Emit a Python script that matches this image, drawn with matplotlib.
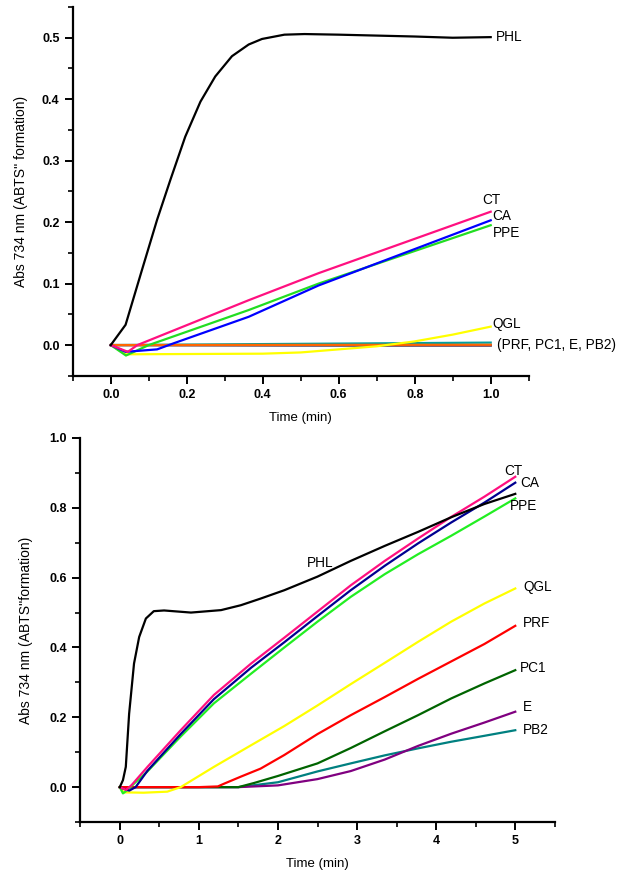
import matplotlib
matplotlib.use("Agg")
import matplotlib.pyplot as plt
from matplotlib.ticker import MultipleLocator

plt.rcParams['font.family'] = ['Liberation Sans', 'DejaVu Sans']

# ---------------- Top panel data (0-1 min) ----------------
top_phl_x = [0, 0.039, 0.082, 0.122, 0.157, 0.196, 0.236, 0.275, 0.319, 0.363, 0.398, 0.457, 0.51, 0.6, 0.8, 0.9, 1.0]
top_phl_y = [0, 0.033, 0.122, 0.204, 0.269, 0.339, 0.396, 0.437, 0.47, 0.489, 0.498, 0.505, 0.506, 0.505, 0.502, 0.500, 0.501]

top_ct_x = [0, 0.045, 0.07, 0.363, 0.547, 1.0]
top_ct_y = [0, -0.011, 0.0, 0.073, 0.117, 0.217]

top_ca_x = [0, 0.039, 0.122, 0.166, 0.363, 0.547, 1.0]
top_ca_y = [0, -0.011, -0.007, 0.003, 0.046, 0.097, 0.203]

top_ppe_x = [0, 0.04, 0.1, 0.363, 0.547, 1.0]
top_ppe_y = [0, -0.017, 0.0, 0.057, 0.1, 0.195]

top_qgl_x = [0, 0.04, 0.4, 0.5, 0.6, 0.7, 0.8, 0.9, 1.0]
top_qgl_y = [0, -0.015, -0.014, -0.012, -0.007, -0.002, 0.006, 0.017, 0.03]

top_flat_x = [0, 0.5, 1.0]
top_pc1_y = [0, -0.0005, -0.0006]
top_e_y = [0, -0.0003, -0.0004]
top_pb2_y = [0, 0.002, 0.004]
top_prf_y = [0, 0.0003, 0.0005]

# ---------------- Bottom panel data (0-5 min) ----------------
bot_phl_x = [0, 0.04, 0.076, 0.118, 0.18, 0.245, 0.33, 0.43, 0.56, 0.9, 1.28, 1.53, 1.78, 2.08, 2.5, 2.92, 3.35, 3.77, 4.19, 4.61, 5.0]
bot_phl_y = [0, 0.02, 0.058, 0.21, 0.354, 0.43, 0.483, 0.504, 0.506, 0.5, 0.507, 0.521, 0.54, 0.564, 0.603, 0.648, 0.691, 0.731, 0.773, 0.811, 0.84]

bot_x = [0.35, 0.77, 1.19, 1.66, 2.08, 2.5, 2.92, 3.35, 3.77, 4.19, 4.61, 5.0]
bot_ct_y = [0.058, 0.163, 0.264, 0.354, 0.428, 0.503, 0.578, 0.648, 0.712, 0.774, 0.832, 0.889]
bot_ca_y = [0.047, 0.152, 0.252, 0.342, 0.415, 0.49, 0.564, 0.634, 0.698, 0.758, 0.815, 0.872]
bot_ppe_y = [0.045, 0.145, 0.24, 0.325, 0.4, 0.474, 0.545, 0.61, 0.667, 0.72, 0.775, 0.827]
bot_ct_start_x = [0, 0.08, 0.15]
bot_ct_start_y = [0, -0.008, 0.006]
bot_ca_start_x = [0, 0.05, 0.12, 0.2]
bot_ca_start_y = [0, -0.005, -0.01, 0.0]
bot_ppe_start_x = [0, 0.04, 0.1, 0.18]
bot_ppe_start_y = [0, -0.018, -0.008, 0.01]

bot_qgl_x = [0, 0.05, 0.3, 0.6, 0.77, 1.19, 1.66, 2.08, 2.5, 2.92, 3.35, 3.77, 4.19, 4.61, 5.0]
bot_qgl_y = [0, -0.015, -0.016, -0.013, 0.0, 0.058, 0.12, 0.175, 0.234, 0.295, 0.356, 0.416, 0.474, 0.526, 0.569]

bot_prf_x = [0, 1.0, 1.24, 1.32, 1.53, 1.78, 2.08, 2.5, 2.92, 3.35, 3.77, 4.19, 4.61, 5.0]
bot_prf_y = [0, 0.0, 0.002, 0.01, 0.03, 0.053, 0.092, 0.152, 0.206, 0.258, 0.31, 0.36, 0.41, 0.462]

bot_pc1_x = [0, 1.5, 1.7, 2.0, 2.5, 2.92, 3.35, 3.77, 4.19, 4.61, 5.0]
bot_pc1_y = [0, 0.0, 0.012, 0.032, 0.068, 0.112, 0.16, 0.206, 0.254, 0.297, 0.335]

bot_e_x = [0, 1.5, 2.0, 2.5, 2.92, 3.35, 3.77, 4.19, 4.61, 5.0]
bot_e_y = [0, 0.0, 0.005, 0.023, 0.046, 0.079, 0.118, 0.153, 0.185, 0.216]

bot_pb2_x = [0, 1.5, 2.0, 2.5, 2.92, 3.35, 3.77, 4.19, 4.61, 5.0]
bot_pb2_y = [0, 0.0, 0.014, 0.045, 0.068, 0.091, 0.111, 0.13, 0.147, 0.163]

LW = 1.6
FS = 9.8
fig = plt.figure(figsize=(6.22, 8.76), dpi=100)

def style(ax):
    for s in ['top', 'right']:
        ax.spines[s].set_visible(False)
    for s in ['left', 'bottom']:
        ax.spines[s].set_linewidth(1.6)
    ax.tick_params(which='major', direction='out', length=6, width=1.4, labelsize=9)
    ax.tick_params(which='minor', direction='out', length=3.5, width=1.2)
    for lab in ax.get_xticklabels() + ax.get_yticklabels():
        lab.set_fontweight('bold')

# ---------------- Top ----------------
ax1 = fig.add_axes([0.117, 0.571, 0.733, 0.421])
ax1.plot(top_flat_x, top_pc1_y, color='#006400', lw=LW)
ax1.plot(top_flat_x, top_e_y, color='#800080', lw=LW)
ax1.plot(top_flat_x, top_pb2_y, color='#00A0A0', lw=LW)
ax1.plot(top_flat_x, top_prf_y, color='#FF6600', lw=LW)
ax1.plot(top_qgl_x, top_qgl_y, color='#FFFF00', lw=LW)
ax1.plot(top_ppe_x, top_ppe_y, color='#22DD22', lw=LW)
ax1.plot(top_ca_x, top_ca_y, color='#0000FF', lw=LW)
ax1.plot(top_ct_x, top_ct_y, color='#FF1080', lw=LW)
ax1.plot(top_phl_x, top_phl_y, color='black', lw=LW)
ax1.set_xlim(-0.1, 1.1)
ax1.set_ylim(-0.05, 0.55)
ax1.xaxis.set_major_locator(MultipleLocator(0.2))
ax1.xaxis.set_minor_locator(MultipleLocator(0.1))
ax1.yaxis.set_major_locator(MultipleLocator(0.1))
ax1.yaxis.set_minor_locator(MultipleLocator(0.05))
ax1.set_xticks([0.0, 0.2, 0.4, 0.6, 0.8, 1.0])
ax1.set_xticklabels(['0.0', '0.2', '0.4', '0.6', '0.8', '1.0'])
ax1.set_yticks([0.0, 0.1, 0.2, 0.3, 0.4, 0.5])
ax1.set_yticklabels(['0.0', '0.1', '0.2', '0.3', '0.4', '0.5'])
style(ax1)
ax1.set_xlabel('Time (min)', fontsize=9.5, labelpad=8)
ax1.set_ylabel("Abs 734 nm (ABTS'' formation)", fontsize=10, labelpad=10)
tk = dict(fontsize=FS, va='center', ha='left')
ax1.text(1.013, 0.502, 'PHL', **tk)
ax1.text(0.979, 0.236, 'CT', **tk)
ax1.text(1.005, 0.21, 'CA', **tk)
ax1.text(1.005, 0.183, 'PPE', **tk)
ax1.text(1.005, 0.034, 'QGL', **tk)
ax1.text(1.016, 0.0, '(PRF, PC1, E, PB2)', **tk)

# ---------------- Bottom ----------------
ax2 = fig.add_axes([0.129, 0.0616, 0.763, 0.4384])
ax2.plot(bot_pb2_x, bot_pb2_y, color='#008080', lw=LW)
ax2.plot(bot_e_x, bot_e_y, color='#800080', lw=LW)
ax2.plot(bot_pc1_x, bot_pc1_y, color='#006400', lw=LW)
ax2.plot(bot_prf_x, bot_prf_y, color='#FF0000', lw=LW)
ax2.plot(bot_qgl_x, bot_qgl_y, color='#FFFF00', lw=LW)
ax2.plot(bot_ppe_start_x + bot_x, bot_ppe_start_y + bot_ppe_y, color='#22EE22', lw=LW)
ax2.plot(bot_ca_start_x + bot_x, bot_ca_start_y + bot_ca_y, color='#000090', lw=LW)
ax2.plot(bot_ct_start_x + bot_x, bot_ct_start_y + bot_ct_y, color='#FF1080', lw=LW)
ax2.plot(bot_phl_x, bot_phl_y, color='black', lw=LW)
ax2.set_xlim(-0.5, 5.5)
ax2.set_ylim(-0.1, 1.0)
ax2.xaxis.set_major_locator(MultipleLocator(1))
ax2.xaxis.set_minor_locator(MultipleLocator(0.5))
ax2.yaxis.set_major_locator(MultipleLocator(0.2))
ax2.yaxis.set_minor_locator(MultipleLocator(0.1))
ax2.set_xticks([0, 1, 2, 3, 4, 5])
ax2.set_xticklabels(['0', '1', '2', '3', '4', '5'])
ax2.set_yticks([0.0, 0.2, 0.4, 0.6, 0.8, 1.0])
ax2.set_yticklabels(['0.0', '0.2', '0.4', '0.6', '0.8', '1.0'])
style(ax2)
ax2.set_xlabel('Time (min)', fontsize=9.5, labelpad=8)
ax2.set_ylabel("Abs 734 nm (ABTS''formation)", fontsize=10, labelpad=12)
ax2.text(4.97, 0.906, 'CT', fontsize=FS, va='center', ha='center')
ax2.text(5.06, 0.872, 'CA', **tk)
ax2.text(5.11, 0.805, 'PPE', fontsize=FS, va='center', ha='center')
ax2.text(5.1, 0.574, 'QGL', **tk)
ax2.text(5.09, 0.471, 'PRF', **tk)
ax2.text(5.06, 0.341, 'PC1', **tk)
ax2.text(5.09, 0.229, 'E', **tk)
ax2.text(5.09, 0.163, 'PB2', **tk)
ax2.text(2.53, 0.642, 'PHL', fontsize=FS, va='center', ha='center')

fig.savefig('out.png', dpi=100)
